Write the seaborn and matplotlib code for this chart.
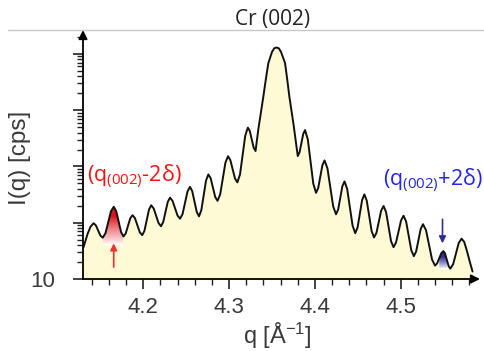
import numpy as np
import pandas as pd
import matplotlib
matplotlib.use("Agg")
import matplotlib.pyplot as plt
import seaborn as sns
from matplotlib.colors import LinearSegmentedColormap
from matplotlib.ticker import MultipleLocator, FixedLocator, LogLocator, NullFormatter
from matplotlib.lines import Line2D

# scattering vector q [1/A] and intensity I [cps]
q = [4.1303, 4.1350, 4.1385, 4.1420, 4.1447, 4.1474, 4.1500, 4.1527, 4.1559, 4.1591,
     4.1623, 4.1655, 4.1684, 4.1712, 4.1741, 4.1769, 4.1795, 4.1822, 4.1848, 4.1874,
     4.1902, 4.1931, 4.1959, 4.1987, 4.2013, 4.2040, 4.2066, 4.2092, 4.2121, 4.2149,
     4.2178, 4.2206, 4.2232, 4.2259, 4.2285, 4.2311, 4.2340, 4.2370, 4.2399, 4.2428,
     4.2457, 4.2486, 4.2515, 4.2544, 4.2570, 4.2597, 4.2623, 4.2649, 4.2676, 4.2704,
     4.2731, 4.2758, 4.2785, 4.2812, 4.2838, 4.2865, 4.2896, 4.2926, 4.2957, 4.2987,
     4.3014, 4.3042, 4.3069, 4.3096, 4.3127, 4.3157, 4.3188, 4.3218, 4.3241, 4.3263,
     4.3286, 4.3308, 4.3340, 4.3399, 4.3428, 4.3457, 4.3500, 4.3526, 4.3552, 4.3579,
     4.3605, 4.3652, 4.3677, 4.3702, 4.3751, 4.3800, 4.3821, 4.3843, 4.3864, 4.3885,
     4.3917, 4.3949, 4.3981, 4.4013, 4.4038, 4.4063, 4.4087, 4.4112, 4.4146, 4.4179,
     4.4213, 4.4246, 4.4271, 4.4296, 4.4320, 4.4345, 4.4376, 4.4408, 4.4439, 4.4470,
     4.4497, 4.4523, 4.4550, 4.4576, 4.4604, 4.4633, 4.4661, 4.4689, 4.4717, 4.4745,
     4.4772, 4.4800, 4.4829, 4.4858, 4.4887, 4.4916, 4.4945, 4.4975, 4.5004, 4.5033,
     4.5063, 4.5093, 4.5123, 4.5153, 4.5180, 4.5207, 4.5233, 4.5260, 4.5295, 4.5330,
     4.5365, 4.5400, 4.5424, 4.5449, 4.5473, 4.5497, 4.5517, 4.5538, 4.5558, 4.5578,
     4.5611, 4.5644, 4.5676, 4.5709, 4.5740, 4.5775, 4.5808, 4.5837]
counts = [36.8, 63.1, 85.1, 98.0, 89.9, 72.9, 59.1, 54.2, 65.2, 102,
          160, 192, 161, 105, 68.0, 57.0, 64.7, 88.0, 120, 136,
          121, 90.3, 67.6, 60.1, 71.8, 111, 171, 204, 179, 133,
          98.3, 86.7, 103, 156, 235, 279, 246, 181, 134, 118,
          142, 226, 358, 434, 364, 238, 155, 130, 167, 307,
          562, 722, 616, 421, 287, 245, 320, 611, 1170, 1520,
          1300, 890, 609, 521, 722, 1600, 3530, 4900, 4260, 3040,
          2160, 1880, 4520, 17500, 35500, 68500, 108500, 125900, 129900, 125900,
          108500, 68500, 35500, 17500, 5540, 1530, 1790, 2600, 3790, 4430,
          3040, 1230, 494, 340, 412, 659, 1050, 1280, 926, 425,
          195, 141, 172, 277, 446, 542, 398, 188, 88.8, 65.2,
          82.2, 144, 253, 319, 247, 132, 70.8, 54.7, 66.0, 104,
          164, 198, 155, 85.5, 47.1, 36.8, 44.4, 70.0, 110, 133,
          105, 58.3, 32.5, 25.5, 30.9, 49.0, 77.7, 94.1, 73.5, 40.4,
          22.2, 17.3, 18.9, 23.3, 28.7, 31.3, 28.2, 21.9, 17.0, 15.3,
          18.3, 28.3, 43.6, 52.1, 45.7, 30.2, 19.5, 13.6]

x_ticks = [4.2, 4.3, 4.4, 4.5]
x_tick_labels = ["4.2", "4.3", "4.4", "4.5"]
y_ticks = [10, 100, 1000, 10000, 100000]
y_tick_labels = ["10", "", "", "", ""]

# highlighted satellite fringes (q range, floor of the gradient)
red_q = (4.1527, 4.1769)
red_floor = 40
blue_q = (4.5440, 4.5550)
blue_floor = 15

df = pd.DataFrame({"q": q, "I": counts})

sns.set_style("white")
plt.rcParams["font.family"] = ["Liberation Sans", "DejaVu Sans"]
plt.rcParams["mathtext.default"] = "regular"

fig = plt.figure(figsize=(4.85, 3.51), dpi=100)
ax = fig.add_axes([83 / 485, 72 / 351, 397 / 485, 249 / 351])

ax.fill_between(df["q"], df["I"], 10, color="#FFFAD6", lw=0, zorder=1)


def gradient_fill(q0, q1, floor, top_color):
    part = df[(df["q"] >= q0) & (df["q"] <= q1)]
    poly = ax.fill_between(part["q"], part["I"], floor, facecolor="none",
                           edgecolor="none", zorder=2)
    cmap = LinearSegmentedColormap.from_list("g", ["white", top_color])
    grad = np.clip(np.linspace(0, 1, 256) * 1.7, 0, 1).reshape(-1, 1) ** 0.7
    im = ax.imshow(grad, cmap=cmap, aspect="auto", origin="lower",
                   extent=[q0, q1, floor, part["I"].max()], zorder=2,
                   interpolation="bilinear")
    im.set_clip_path(poly.get_paths()[0], ax.transData)


gradient_fill(*red_q, red_floor, "#E0101A")
gradient_fill(*blue_q, blue_floor, "#2E2E8E")

sns.lineplot(data=df, x="q", y="I", color="#111111", lw=1.4, ax=ax, zorder=3)

ax.set_yscale("log")
ax.set_xlim(4.1297, 4.5924)
ax.set_ylim(10, 2.66e5)

for s in ax.spines.values():
    s.set_visible(False)
ax.annotate("", xy=(0, 1), xytext=(0, 0), xycoords="axes fraction",
            arrowprops=dict(arrowstyle="-|>", color="black", lw=1.3,
                            mutation_scale=13, shrinkA=0, shrinkB=0))
ax.annotate("", xy=(1, 0), xytext=(0, 0), xycoords="axes fraction",
            arrowprops=dict(arrowstyle="-|>", color="black", lw=1.3,
                            mutation_scale=13, shrinkA=0, shrinkB=0))

ax.xaxis.set_major_locator(FixedLocator(x_ticks))
ax.set_xticklabels(x_tick_labels)
ax.xaxis.set_minor_locator(MultipleLocator(0.02))
ax.yaxis.set_major_locator(FixedLocator(y_ticks))
ax.set_yticklabels(y_tick_labels)
ax.yaxis.set_minor_locator(LogLocator(base=10, subs=range(2, 10), numticks=20))
ax.yaxis.set_minor_formatter(NullFormatter())
ax.tick_params(axis="both", which="major", direction="out", length=7, width=1.2,
               color="#222222", labelsize=16, labelcolor="#3a3a3a",
               bottom=True, left=True)
ax.tick_params(axis="x", which="major", pad=6)
ax.tick_params(axis="y", which="major", pad=13)
ax.tick_params(axis="both", which="minor", direction="out", length=4, width=1.0,
               color="#222222", bottom=True, left=True)
ax.set_xlabel("")
ax.set_ylabel("")

fig.text(277 / 485, 1 - 336 / 351, "q [Å$^{-1}$]", ha="center", va="center",
         fontsize=17, color="#3a3a3a")
fig.text(20 / 485, 1 - 158 / 351, "I(q) [cps]", ha="center", va="center",
         rotation=90, fontsize=17.5, color="#3a3a3a")

# annotations for the two fringes
ax.text(4.1343, 665, "(q$_{(002)}$-2δ)", color="#FF1010", fontsize=15.5,
        family=["Open Sans", "DejaVu Sans"], ha="left", va="center")
ax.text(4.4794, 565, "(q$_{(002)}$+2δ)", color="#2424F0", fontsize=15.5,
        family=["Open Sans", "DejaVu Sans"], ha="left", va="center")
ax.annotate("", xy=(4.1655, 43), xytext=(4.1655, 16.3),
            arrowprops=dict(arrowstyle="-|>", color="#F03030", lw=1.2,
                            mutation_scale=10, shrinkA=0, shrinkB=0))
ax.annotate("", xy=(4.5487, 43), xytext=(4.5487, 115),
            arrowprops=dict(arrowstyle="-|>", color="#303090", lw=1.2,
                            mutation_scale=10, shrinkA=0, shrinkB=0))

fig.text(273 / 485, 1 - 19 / 351, "Cr (002)", ha="center", va="center",
         fontsize=15, color="#222222", family=["Open Sans", "DejaVu Sans"])
fig.add_artist(Line2D([8 / 485, 1], [1 - 30 / 351, 1 - 30 / 351],
                      transform=fig.transFigure, color="#C8C8C8", lw=1))

fig.savefig("out.png", dpi=100)
